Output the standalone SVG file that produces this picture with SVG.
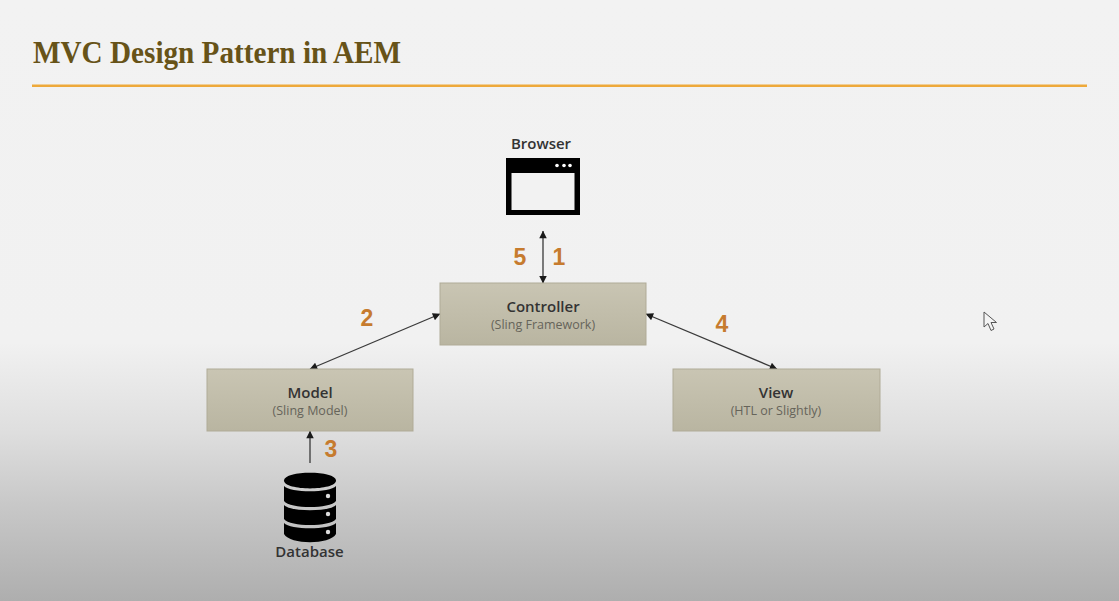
<svg xmlns="http://www.w3.org/2000/svg" width="1119" height="601" viewBox="0 0 1119 601">
<defs>
<linearGradient id="bg" x1="0" y1="0" x2="0" y2="1"><stop offset="0" stop-color="#f2f2f2"/><stop offset="0.57" stop-color="#f1f1f1"/><stop offset="0.72" stop-color="#dedede"/><stop offset="0.84" stop-color="#c8c8c8"/><stop offset="1" stop-color="#aeaeae"/></linearGradient>
<linearGradient id="box" x1="0" y1="0" x2="0" y2="1"><stop offset="0" stop-color="#c9c5b3"/><stop offset="1" stop-color="#b9b5a1"/></linearGradient>
<marker id="ah" viewBox="0 0 10 10" refX="9.500" refY="5" markerWidth="9" markerHeight="7.500" markerUnits="userSpaceOnUse" orient="auto-start-reverse"><path d="M0 0L10 5L0 10Z" fill="#1a1a1a"/></marker>
</defs>
<style>
.box{fill:url(#box);stroke:#b0ab97;stroke-width:1}
.t{font-family:"Open Sans","Noto Sans",sans-serif;text-anchor:middle}
.h{font-size:15px;font-weight:600;fill:#333}
.s{font-size:12.500px;fill:#66645a}
.n{font-family:"Liberation Sans",Arial,sans-serif;font-size:23px;font-weight:700;fill:#c67b2e;text-anchor:middle}
.c{fill:none;stroke:#3a3a3a;stroke-width:1.300;marker-start:url(#ah);marker-end:url(#ah)}
</style>
<rect width="1119" height="601" fill="url(#bg)"/>
<g id="title">
<text x="33" y="63" font-family="'Liberation Serif',serif" font-size="32" font-weight="700" fill="#675318" textLength="368" lengthAdjust="spacingAndGlyphs">MVC Design Pattern in AEM</text>
<rect x="32" y="84.500" width="1055" height="2.500" fill="#eea93a"/>
</g>
<g id="connectors">
<line class="c" x1="543" y1="231" x2="543" y2="283"/>
<line class="c" x1="310" y1="369" x2="440" y2="314"/>
<line class="c" x1="646" y1="314" x2="777" y2="369"/>
<line class="c" style="marker-start:none" x1="310" y1="463" x2="310" y2="431"/>
</g>
<g id="browser">
<text class="t h" x="541" y="149">Browser</text>
<rect x="506" y="158" width="74" height="57" fill="#000"/>
<rect x="511.500" y="173" width="63" height="37" fill="#f2f2f2"/>
<circle cx="557" cy="165.500" r="1.800" fill="#fff"/><circle cx="564" cy="165.500" r="1.800" fill="#fff"/><circle cx="570" cy="165.500" r="1.800" fill="#fff"/>
</g>
<g id="controller">
<rect class="box" x="440" y="283" width="206" height="62"/>
<text class="t h" x="543" y="312">Controller</text>
<text class="t s" x="543" y="329">(Sling Framework)</text>
</g>
<g id="model">
<rect class="box" x="207" y="369" width="206" height="62"/>
<text class="t h" x="310" y="398">Model</text>
<text class="t s" x="310" y="415">(Sling Model)</text>
</g>
<g id="view">
<rect class="box" x="673" y="369" width="207" height="62"/>
<text class="t h" x="776" y="398">View</text>
<text class="t s" x="776" y="415">(HTL or Slightly)</text>
</g>
<g id="database">
<path d="M284 480.500C284 470 336 470 336 480.500C336 491 284 491 284 480.500Z" fill="#000"/>
<path d="M284 486C290 493 330 493 336 486V501C330 509 290 509 284 501Z" fill="#000"/>
<path d="M284 505C290 512 330 512 336 505V519C330 527 290 527 284 519Z" fill="#000"/>
<path d="M284 523C290 530 330 530 336 523V534C330 545 290 545 284 534Z" fill="#000"/>
<circle cx="328" cy="496" r="2.200" fill="#ddd"/><circle cx="328" cy="514" r="2.200" fill="#ddd"/><circle cx="328" cy="532" r="2.200" fill="#ddd"/>
<text class="t h" x="309.500" y="557">Database</text>
</g>
<g id="labels">
<text class="n" x="520" y="265">5</text>
<text class="n" x="559" y="265">1</text>
<text class="n" x="367" y="326">2</text>
<text class="n" x="722" y="332">4</text>
<text class="n" x="331" y="457">3</text>
</g>
<path id="cursor" d="M984 312V327L988 323.500L991 330.500L994 329L991 322.500L996.500 322.500Z" fill="#f4f4f4" stroke="#555" stroke-width="1"/>
</svg>
